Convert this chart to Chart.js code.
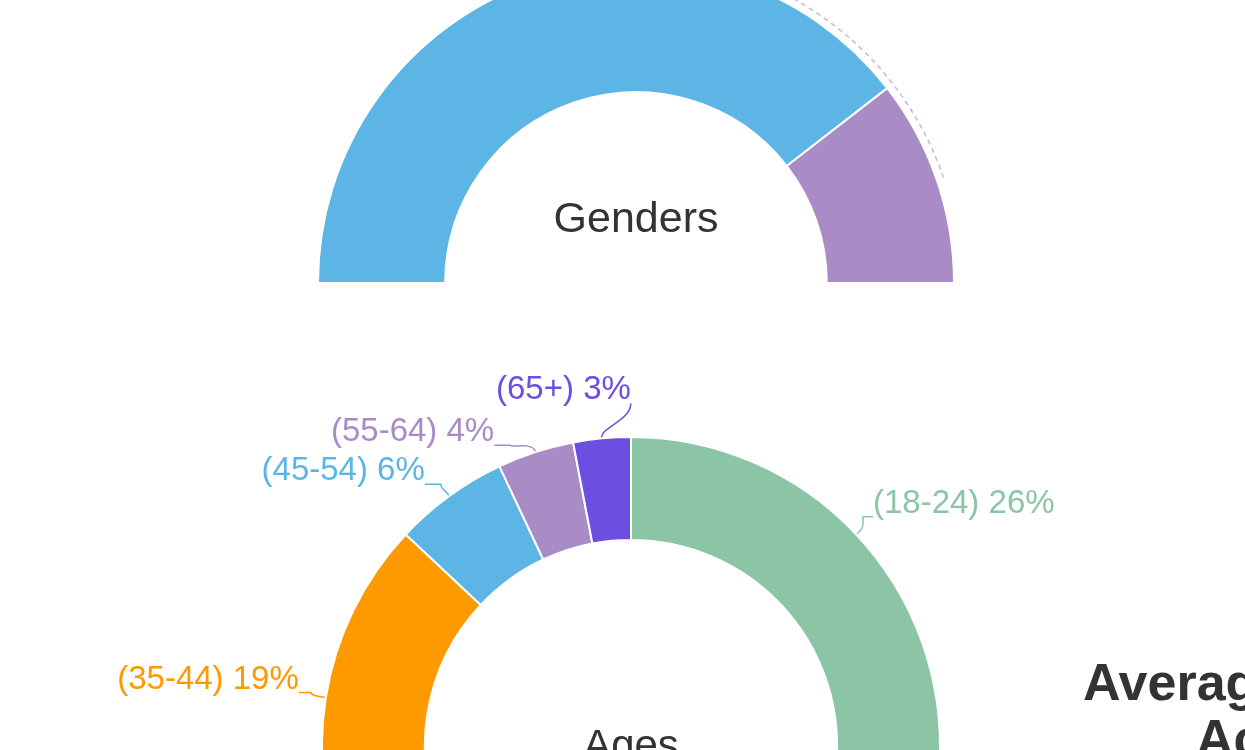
<!DOCTYPE html>
<html>
<head>
<meta charset="utf-8">
<title>Genders / Ages</title>
<script src="https://cdn.jsdelivr.net/npm/chart.js@4.4.1/dist/chart.umd.min.js"></script>
<style>
  html, body { margin: 0; padding: 0; background: #fff; }
  body { width: 1245px; height: 750px; overflow: hidden; position: relative; font-family: 'Liberation Sans', Arial, sans-serif; }
  canvas { position: absolute; left: 0; }
  #gender-chart { top: -100px; }
  #age-chart { top: 0; }
  .side-title { position: absolute; font-weight: bold; font-size: 52px; line-height: 55px; color: #333; white-space: nowrap; }
</style>
</head>
<body>
<canvas id="gender-chart" width="1245" height="850"></canvas>
<canvas id="age-chart" width="1245" height="1100"></canvas>
<div class="side-title" style="left:1083px;top:655px;">Average Daily</div>
<div class="side-title" style="left:1196px;top:711px;">Active Users</div>
<script>
  // data
  const genderLabels = ['Male', 'Female'];
  const genderValues = [79, 21];
  const genderColors = ['#5db5e5', '#a98cc6'];

  const ageLabels = ['18-24', '25-34', '35-44', '45-54', '55-64', '65+'];
  const ageValues = [26, 42, 19, 6, 4, 3];
  const ageColors = ['#8cc5a5', '#e8667a', '#ff9900', '#5db5e5', '#a98cc6', '#6a4fe0'];

  const FONT = "'Liberation Sans', Arial, sans-serif";

  // text in the hole of the doughnut
  const centerText = {
    id: 'centerText',
    afterDraw(chart, args, opts) {
      const arc = chart.getDatasetMeta(0).data[0];
      if (!arc || !opts.text) return;
      const ctx = chart.ctx;
      ctx.save();
      ctx.font = opts.font;
      ctx.fillStyle = opts.color;
      ctx.textAlign = 'center';
      ctx.textBaseline = 'alphabetic';
      ctx.fillText(opts.text, arc.x, arc.y + opts.dy);
      ctx.restore();
    },
  };

  // outside labels with a leader line back to the slice
  const outLabels = {
    id: 'outLabels',
    afterDraw(chart, args, opts) {
      if (!opts.items) return;
      const ctx = chart.ctx;
      const meta = chart.getDatasetMeta(0);
      const ds = chart.data.datasets[0];
      ctx.save();
      ctx.font = opts.font;
      ctx.lineWidth = 1.5;
      ctx.textBaseline = 'middle';
      opts.items.forEach((it, i) => {
        if (!it) return;
        const arc = meta.data[i];
        const mid = (arc.startAngle + arc.endAngle) / 2;
        const ax = arc.x + Math.cos(mid) * (arc.outerRadius + 1);
        const ay = arc.y + Math.sin(mid) * (arc.outerRadius + 1);
        const tx = ax + it.dx;
        const ty = ay + it.dy;
        const leftSide = ax < arc.x;
        const dir = leftSide ? 1 : -1;
        const px = tx + dir * it.tail;
        const color = ds.backgroundColor[i];
        ctx.strokeStyle = color;
        ctx.fillStyle = color;
        ctx.beginPath();
        ctx.moveTo(ax, ay);
        ctx.bezierCurveTo(
          ax + Math.cos(mid) * 10, ay + Math.sin(mid) * 10,
          px, (ay + ty) / 2,
          px, ty
        );
        ctx.lineTo(tx, ty);
        ctx.stroke();
        ctx.textAlign = leftSide ? 'right' : 'left';
        ctx.fillText('(' + chart.data.labels[i] + ') ' + ds.data[i] + '%', tx, ty - 13);
      });
      ctx.restore();
    },
  };

  // leader for a slice whose label sits above the visible area
  const leadArc = {
    id: 'leadArc',
    afterDraw(chart, args, opts) {
      if (opts.index == null) return;
      const arc = chart.getDatasetMeta(0).data[opts.index];
      const mid = (arc.startAngle + arc.endAngle) / 2;
      const ctx = chart.ctx;
      ctx.save();
      ctx.strokeStyle = opts.color;
      ctx.lineWidth = 1.5;
      ctx.setLineDash([5, 4]);
      ctx.beginPath();
      ctx.arc(arc.x, arc.y, arc.outerRadius + opts.gap, mid, opts.toAngle, true);
      ctx.stroke();
      ctx.restore();
    },
  };

  new Chart(document.getElementById('gender-chart'), {
    type: 'doughnut',
    data: {
      labels: genderLabels,
      datasets: [{
        data: genderValues,
        backgroundColor: genderColors,
        borderColor: '#fff',
        borderWidth: 2,
        hoverOffset: 0,
      }],
    },
    options: {
      responsive: false,
      animation: false,
      events: [],
      rotation: -90,
      circumference: 180,
      cutout: '60%',
      layout: { padding: { left: 317, right: 290, top: 64, bottom: 466 } },
      plugins: {
        legend: { display: false },
        tooltip: { enabled: false },
        centerText: { text: 'Genders', font: '43px ' + FONT, color: '#333', dy: -51 },
        leadArc: { index: 1, gap: 7, toAngle: -1.4, color: '#c9b6e0' },
      },
    },
    plugins: [centerText, leadArc],
  });

  new Chart(document.getElementById('age-chart'), {
    type: 'doughnut',
    data: {
      labels: ageLabels,
      datasets: [{
        data: ageValues,
        backgroundColor: ageColors,
        borderColor: '#fff',
        borderWidth: 2,
        hoverOffset: 0,
      }],
    },
    options: {
      responsive: false,
      animation: false,
      events: [],
      cutout: '66.7%',
      layout: { padding: { left: 321, right: 304, top: 436, bottom: 44 } },
      plugins: {
        legend: { display: false },
        tooltip: { enabled: false },
        centerText: { text: 'Ages', font: '42px ' + FONT, color: '#333', dy: 13 },
        outLabels: {
          font: '33px ' + FONT,
          items: [
            { dx: 16, dy: -17, tail: 10 },
            null,
            { dx: -26, dy: -5, tail: 12 },
            { dx: -24, dy: -11, tail: 16 },
            { dx: -41, dy: -6, tail: 16 },
            { dx: 29, dy: -34, tail: 0 },
          ],
        },
      },
    },
    plugins: [centerText, outLabels],
  });
</script>
</body>
</html>
